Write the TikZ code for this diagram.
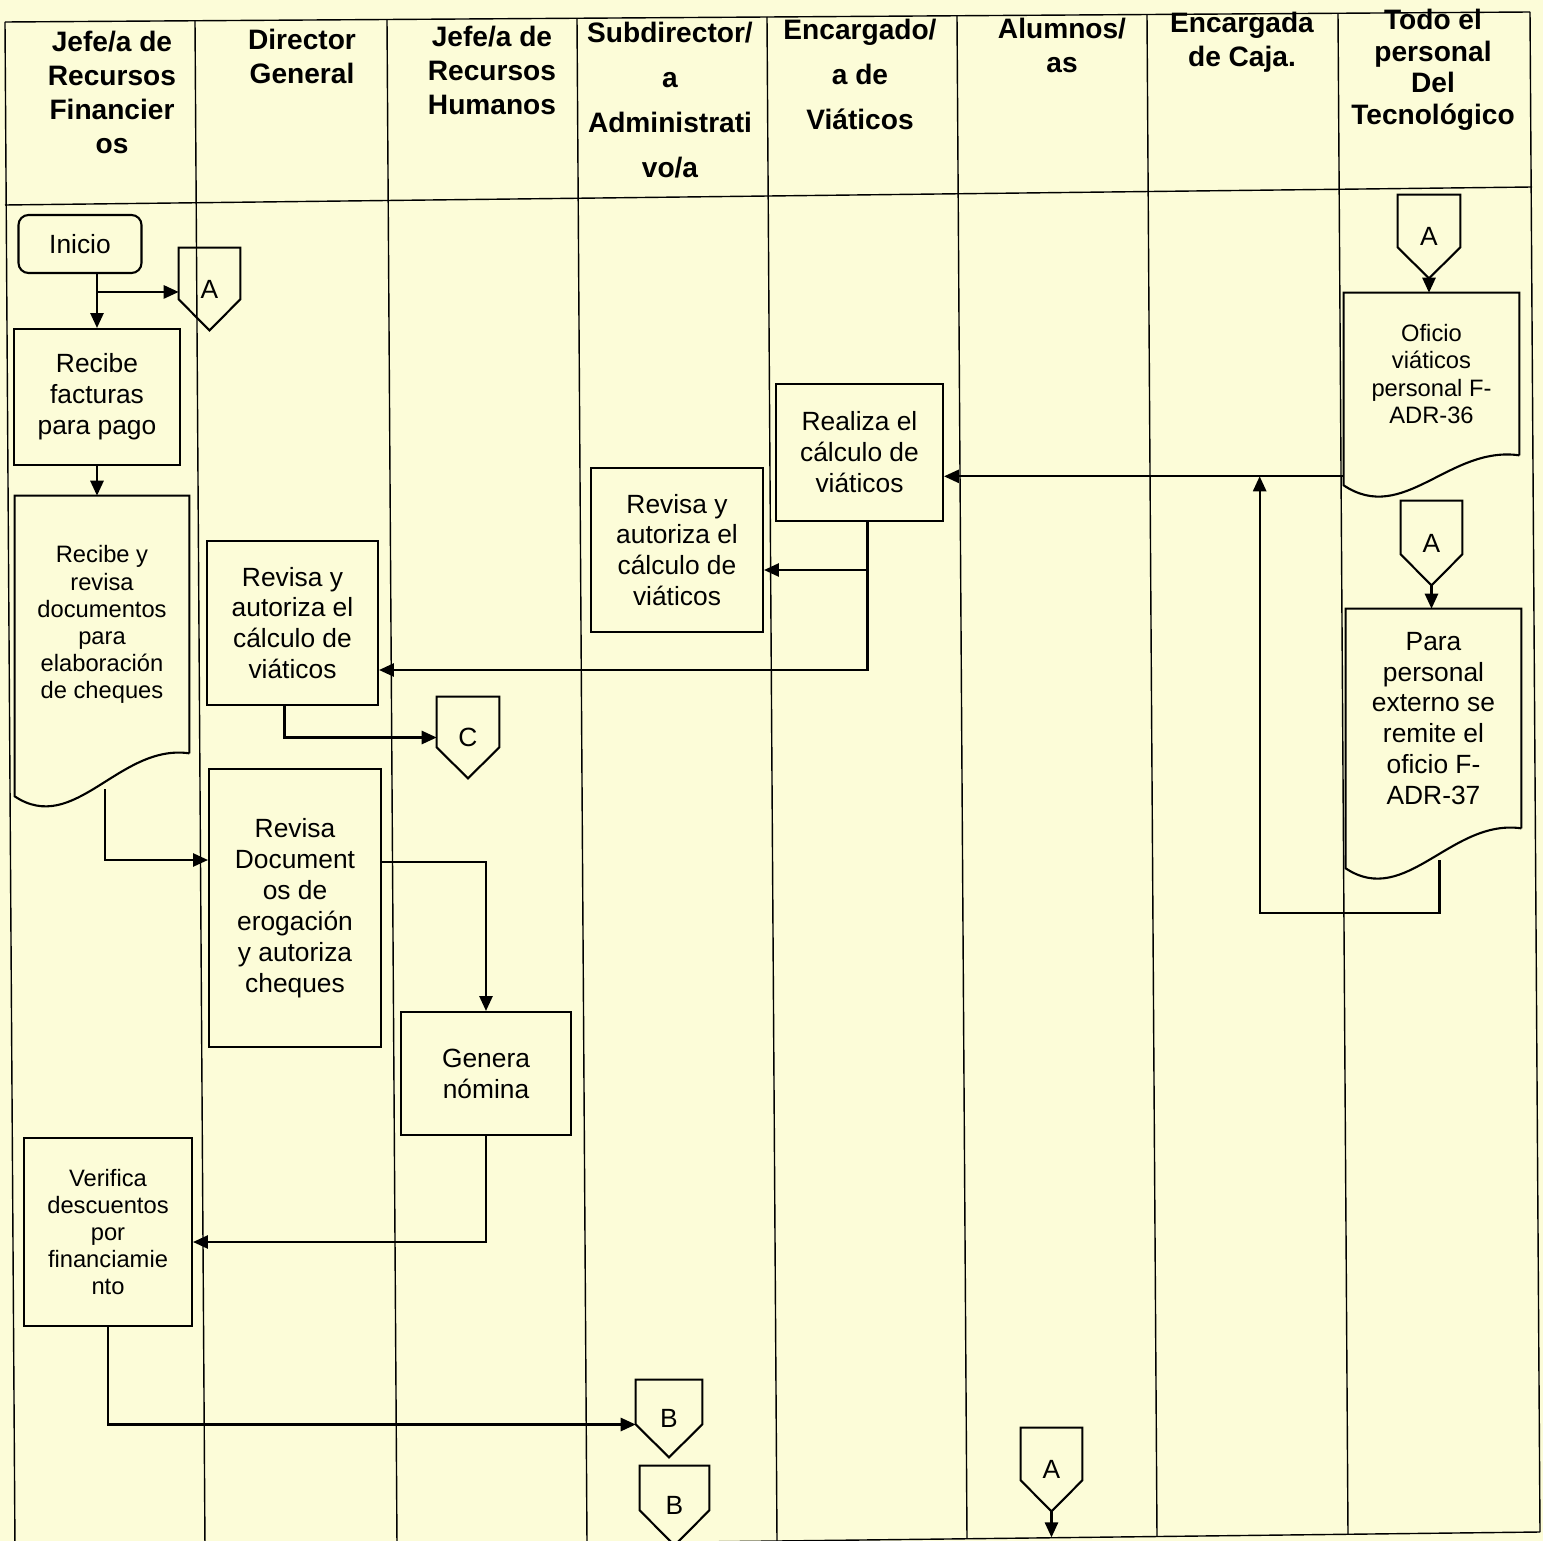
\documentclass[tikz,border=0pt]{standalone}
\usepackage{fontspec}
\setmainfont{Liberation Sans}
\usepackage{tikz}
\usetikzlibrary{positioning, arrows.meta, calc}
\definecolor{paper}{RGB}{252,252,216}
\tikzset{
	>={Stealth[length=8.5pt, width=7.5pt, inset=0pt]}, % makes the arrow heads bold
	lane/.style={line width=0.8pt}, % lines of the table
	head/.style={font=\bfseries\fontsize{16}{19.3}\selectfont, align=center, anchor=north, inner sep=0pt}, % column titles
	task/.style={draw, line width=1.2pt, align=center, inner sep=0pt, font=\fontsize{15}{17.6}\selectfont}, % process boxes
	small/.style={font=\fontsize{13.5}{15.4}\selectfont}, % smaller text
	doc/.style={align=center, inner sep=0pt, font=\fontsize{15}{17.6}\selectfont}, % documents, outline drawn by \docline
	conn/.style={inner sep=0pt, minimum width=1.22cm, minimum height=1.64cm, font=\fontsize{15}{17.6}\selectfont}, % off page connectors, outline drawn by \connline
	flow/.style={->, line width=1.2pt}, % connectors
}
\newcommand{\docline}[2]{% outline of a document, #2 = drop of the left corner
	\draw[line width=1.2pt] (#1.south east) -- (#1.north east) -- (#1.north west) -- ($(#1.south west)+(0,#2)$)
		.. controls ($(#1.south west)+(60,#2+40)$) and ($(#1.south east)+(-70,-10)$) .. (#1.south east);}
\newcommand{\connline}[2]{% outline of an off page connector, #2 = half width
	\draw[line width=1.2pt] (#1.south) -- ($(#1.south west)+(0,-#2)$) -- (#1.north west) -- (#1.north east)
		-- ($(#1.south east)+(0,-#2)$) -- cycle;}

\begin{document}
\begin{tikzpicture}[x=0.02cm, y=-0.02cm]
	\fill[paper] (0,0) rectangle (1543,1541);
	\useasboundingbox (0,0) rectangle (1543,1541);

	% table (the sheet lies a little askew)
	\draw[lane] (5,22) -- (1530,12);
	\draw[lane] (5,205) -- (1532,187);
	\draw[lane] (15,1550) -- (1540,1532);
	\foreach \xt in {5,195,387,577,767,957,1147,1338,1530}
	{
		\draw[lane] (\xt,{22-0.00656*(\xt-5)}) -- (\xt+10,{1550-0.0118*(\xt-5)});
	}

	% column titles
	\node[head](h1) at (112,31){Jefe/a de\\Recursos\\Financier\\os};
	\node[head](h2) at (302,29){Director\\General};
	\node[head](h3) at (492,26){Jefe/a de\\Recursos\\Humanos};
	\node[head, font=\bfseries\fontsize{16}{25.5}\selectfont](h4) at (670,22){Subdirector/\\a\\Administrati\\vo/a};
	\node[head, font=\bfseries\fontsize{16}{25.5}\selectfont](h5) at (860,19){Encargado/\\a de\\Viáticos};
	\node[head](h6) at (1062,18){Alumnos/\\as};
	\node[head](h7) at (1242,12){Encargada\\de Caja.};
	\node[head, font=\bfseries\fontsize{16}{17.9}\selectfont](h8) at (1433,9){Todo el\\personal\\Del\\Tecnológico};

	% steps
	\node[task, rounded corners=0.2cm, minimum width=2.46cm, minimum height=1.16cm](ini) at (80,244){Inicio};
	\node[conn](a1) at (209.5,289){A};
	\node[task, minimum width=3.32cm, minimum height=2.72cm](fac) at (97,397){Recibe\\facturas\\para pago};
	\node[doc, small, minimum width=3.48cm, minimum height=5.14cm](rev) at (102,624.5){Recibe y\\revisa\\documentos\\para\\elaboración\\de cheques};
	\node[task, minimum width=3.42cm, minimum height=3.28cm](aut1) at (292.5,623){Revisa y\\autoriza el\\cálculo de\\viáticos};
	\node[conn, minimum width=1.24cm, minimum height=1.62cm](c1) at (468,737.5){C};
	\node[task, minimum width=3.44cm, minimum height=5.56cm](ero) at (295,908){Revisa\\Document\\os de\\erogación\\y autoriza\\cheques};
	\node[task, minimum width=3.4cm, minimum height=2.46cm](nom) at (486,1073.5){Genera\\nómina};
	\node[task, small, minimum width=3.36cm, minimum height=3.76cm](ver) at (108,1232){Verifica\\descuentos\\por\\financiamie\\nto};
	\node[conn, minimum width=1.32cm, minimum height=1.54cm](b1) at (669,1418.5){B};
	\node[conn, minimum width=1.38cm, minimum height=1.58cm](b2) at (674.5,1505.5){B};
	\node[task, minimum width=3.44cm, minimum height=3.28cm](aut2) at (677,550){Revisa y\\autoriza el\\cálculo de\\viáticos};
	\node[task, minimum width=3.34cm, minimum height=2.74cm](cal) at (859.5,452.5){Realiza el\\cálculo de\\viáticos};
	\node[conn, minimum height=1.66cm](a4) at (1051.5,1469.5){A};
	\node[conn, minimum width=1.24cm, minimum height=1.66cm](a2) at (1429,236.5){A};
	\node[doc, small, minimum width=3.5cm, minimum height=3.24cm](ofi) at (1431.5,374){Oficio\\viáticos\\personal F-\\ADR-36};
	\node[conn, minimum height=1.68cm](a3) at (1431.5,543){A};
	\node[doc, minimum width=3.5cm, minimum height=4.38cm](par) at (1433.5,718.5){Para\\personal\\externo se\\remite el\\oficio F-\\ADR-37};

	\docline{rev}{43}
	\docline{ofi}{30}
	\docline{par}{40}
	\connline{a1}{31}
	\connline{c1}{31}
	\connline{b1}{33}
	\connline{b2}{35}
	\connline{a4}{31}
	\connline{a2}{31}
	\connline{a3}{31}

	% helper points
	\coordinate (j1) at ($(fac.north)+(0,-36)$);
	\coordinate (rev-out) at ($(rev.south)+(3,36)$);
	\coordinate (ofi-out) at ($(ofi.south west)+(0,21)$);
	\coordinate (par-out) at ($(par.south)+(6,32)$);
	\coordinate (par-turn) at ($(par.south)+(6,85)$);
	\coordinate (up-end) at ($(ofi-out)+(-84,0)$);
	\coordinate (a4-end) at ($(a4.south)+(0,26)$);

	% connectors
	\draw[flow] (ini.south -| fac.north) -- (fac.north);
	\draw[flow] (j1) -- (j1 -| a1.west);
	\draw[flow] (fac.south) -- (fac.south |- rev.north);
	\draw[flow] (rev-out) |- ($(ero.west)+(0,-48)$);
	\draw[flow] ($(ero.east)+(0,-46)$) -| (nom.north);
	\draw[flow] (nom.south) |- ($(ver.east)+(0,10)$);
	\draw[flow] (ver.south) |- ($(b1.west)+(0,6)$);
	\draw[flow] ($(aut1.south)+(-8,0)$) |- (c1.west);
	\draw[flow] ($(cal.south)+(8,0)$) |- ($(aut2.east)+(0,20)$);
	\draw[flow] ($(cal.south)+(8,0)$) |- ($(aut1.east)+(0,47)$);
	\draw[flow] (ofi-out) -- (ofi-out -| cal.east);
	\draw[flow] (par-out) -- (par-turn) -| (up-end);
	\draw[flow] (a2.south) -- (a2.south |- ofi.north);
	\draw[flow] (a3.south) -- (a3.south |- par.north);
	\draw[flow] (a4.south) -- (a4-end);
\end{tikzpicture}
\end{document}
